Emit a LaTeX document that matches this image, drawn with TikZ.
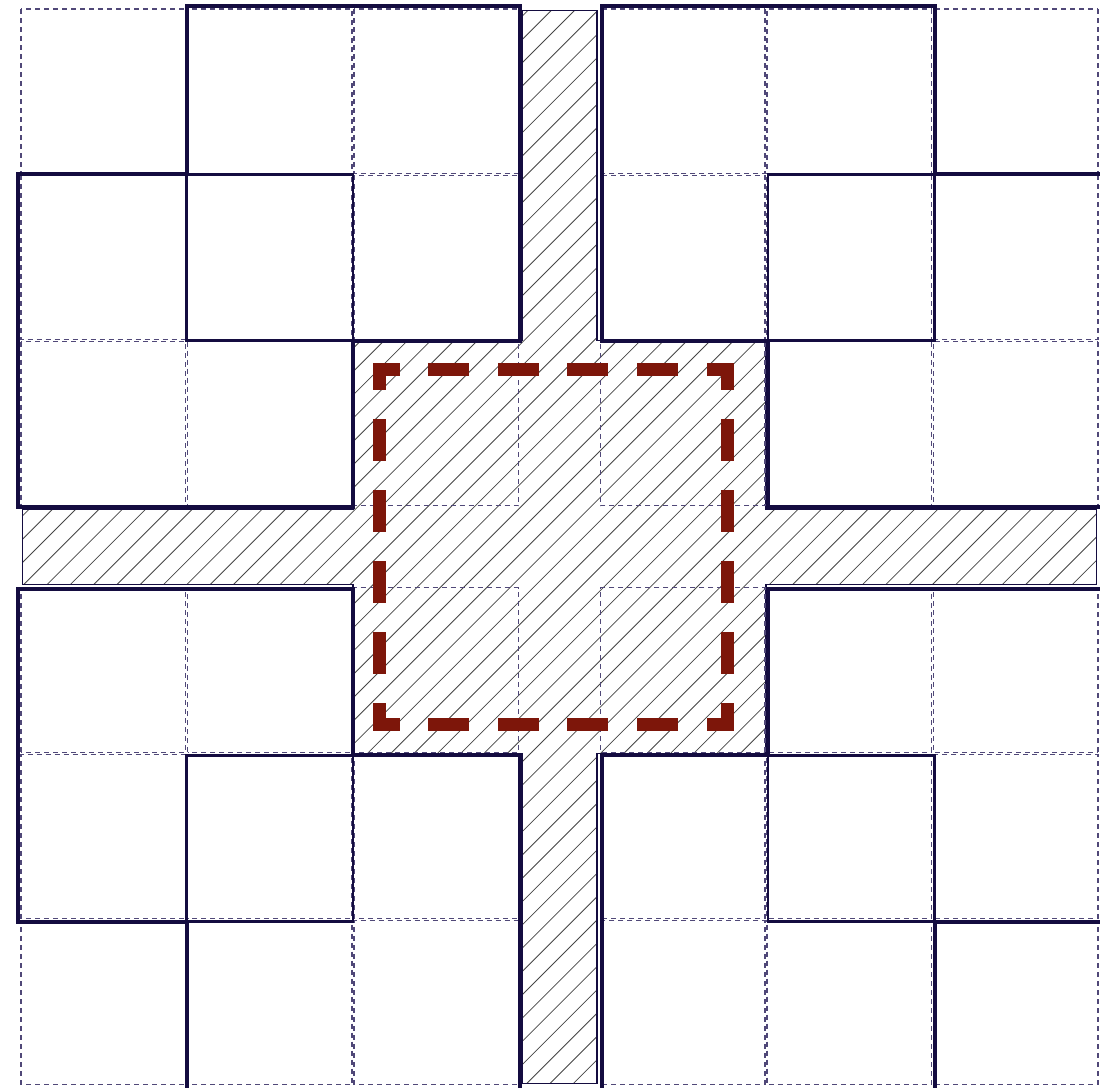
\documentclass[tikz,border=0pt]{standalone}
\definecolor{navy}{RGB}{20,12,64}
\definecolor{gridc}{RGB}{80,72,120}
\definecolor{redd}{RGB}{125,22,10}
\definecolor{hatchc}{RGB}{70,70,70}
\tikzset{
  cellgrid/.style={draw=gridc, line width=1.1pt, dash pattern=on 5pt off 4pt},
  sqthin/.style={draw=navy, line width=2.5pt},
  sqthick/.style={draw=navy, line width=4pt, line join=miter},
  hatchline/.style={draw=hatchc, line width=0.8pt},
  plusborder/.style={draw=navy, line width=1.2pt},
  reddash/.style={draw=redd, line width=13pt, line cap=rect},
}
\newcommand\pluspath{(522,10.5) -- (597,10.5) -- (597,340.6) -- (766,340.6) -- (766,509.4) -- (1096.5,509.4) -- (1096.5,584.4) -- (766,584.4) -- (766,753.2) -- (597,753.2) -- (597,1083.3) -- (522,1083.3) -- (522,753.2) -- (353,753.2) -- (353,584.4) -- (22.5,584.4) -- (22.5,509.4) -- (353,509.4) -- (353,340.6) -- (522,340.6) -- cycle}
\newcommand\quadrantcells{%
  \foreach \xl/\xr in {20/186.5,186.5/353,353/519.5}{
    \foreach \yt/\yb in {8/174.3,174.3/340.6,340.6/506.9}{
      \path[cellgrid] (\xl+1,\yt+1) rectangle (\xr-1,\yb-1);
    }
  }%
}
\newcommand\quadrantsquares{%
  \path[sqthin] (186.5,6) rectangle (519.5,340.6);
  \path[sqthin] (18,174.3) rectangle (353,506.9);
  \path[sqthick] (186.5,6) -- (519.5,6) -- (519.5,340.6) -- (353,340.6) -- (353,506.9) -- (18,506.9) -- (18,174.3) -- (186.5,174.3) -- cycle;
}
\begin{document}
\begin{tikzpicture}[x=1pt,y=-1pt]
\useasboundingbox (0,0) rectangle (1100,1087);
\fill[white] (0,0) rectangle (1100,1087);
% hatched plus region
\begin{scope}
  \clip \pluspath;
  \foreach \i in {0,...,95}{
    \draw[hatchline] ({25.8+23.3*\i},0) -- (0,{25.8+23.3*\i});
  }
\end{scope}
\path[plusborder] \pluspath;
% dashed cells in the four quadrants
\begin{scope}\quadrantcells\end{scope}
\begin{scope}[shift={(1119,0)},xscale=-1]\quadrantcells\end{scope}
\begin{scope}[shift={(0,1093.8)},yscale=-1]\quadrantcells\end{scope}
\begin{scope}[shift={(1119,1093.8)},xscale=-1,yscale=-1]\quadrantcells\end{scope}
% solid squares in the four quadrants
\begin{scope}\quadrantsquares\end{scope}
\begin{scope}[shift={(1121,0)},xscale=-1]\quadrantsquares\end{scope}
\begin{scope}[shift={(0,1096)},yscale=-1]\quadrantsquares\end{scope}
\begin{scope}[shift={(1121,1096)},xscale=-1,yscale=-1]\quadrantsquares\end{scope}
% red dashed square
\coordinate (rtl) at (379,369);
\coordinate (rtr) at (727,369);
\coordinate (rbl) at (379,724);
\coordinate (rbr) at (727,724);
\draw[reddash, dash pattern=on 28pt off 41.6pt, dash phase=14pt] (rtl) -- (rtr);
\draw[reddash, dash pattern=on 28pt off 41.6pt, dash phase=14pt] (rbl) -- (rbr);
\draw[reddash, dash pattern=on 28.5pt off 42.5pt, dash phase=14.25pt] (rtl) -- (rbl);
\draw[reddash, dash pattern=on 28.5pt off 42.5pt, dash phase=14.25pt] (rtr) -- (rbr);
\end{tikzpicture}
\end{document}
